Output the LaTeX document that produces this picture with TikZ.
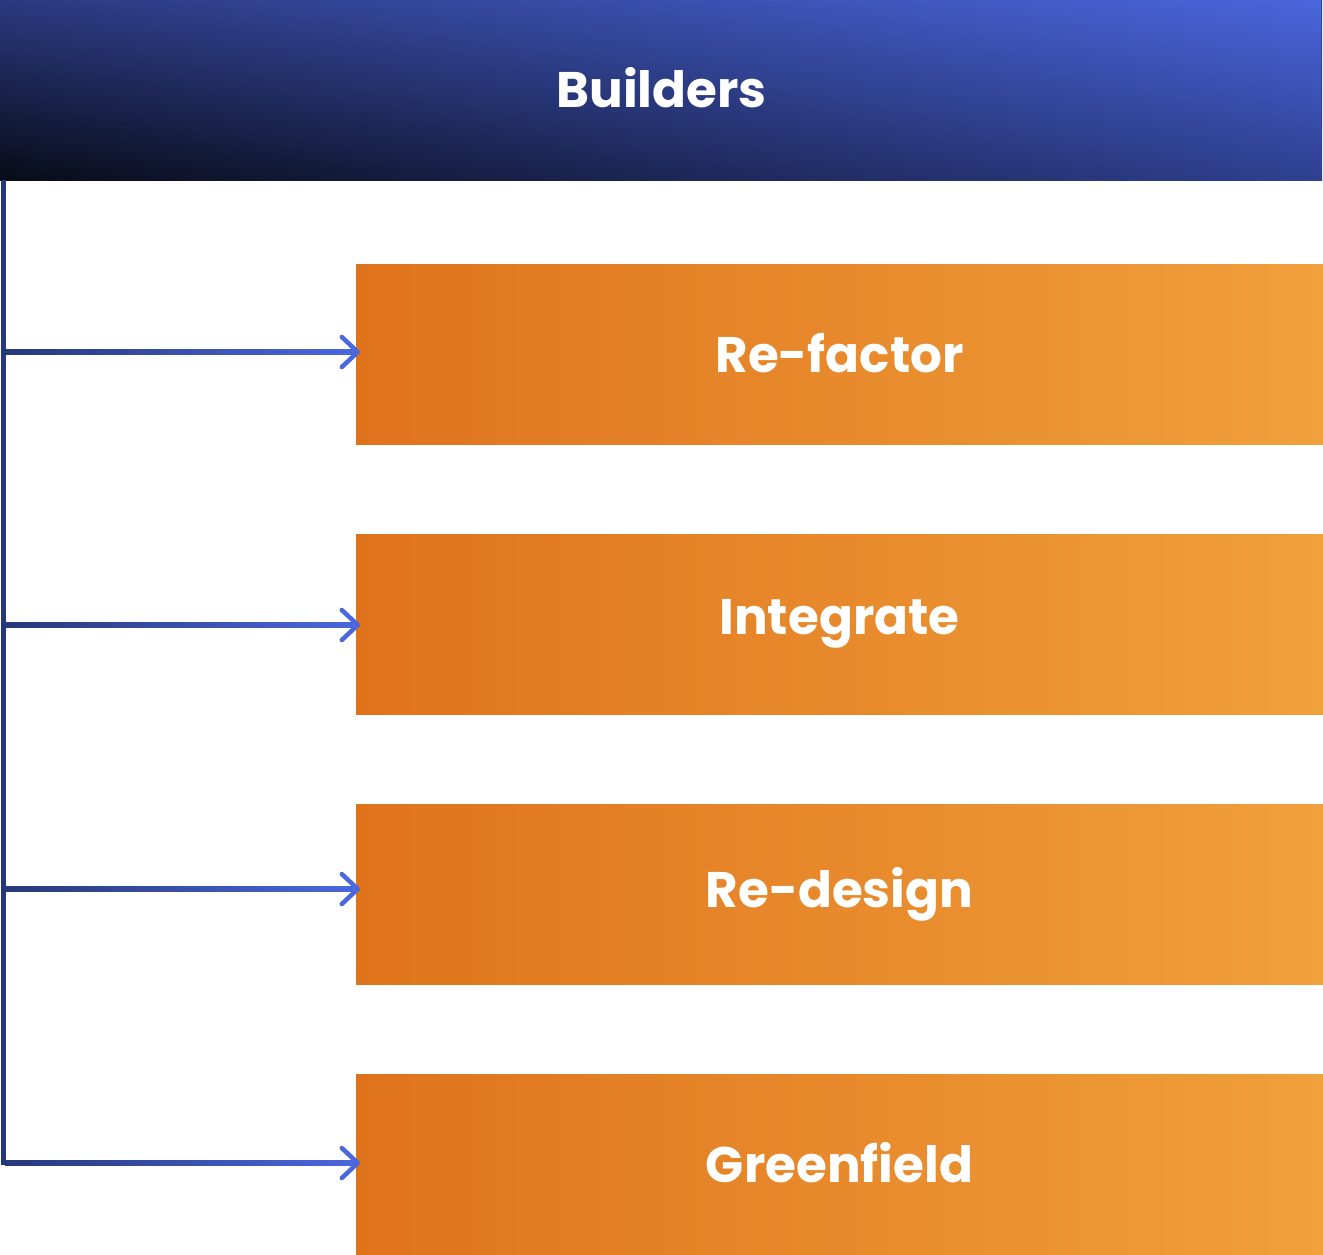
\documentclass[tikz,border=0pt]{standalone}
\usepackage{fontspec}
\setmainfont{Poppins}
\usetikzlibrary{fadings,calc}
\definecolor{hdrBL}{HTML}{080C18}
\definecolor{hdrBR}{HTML}{2F4090}
\definecolor{hdrTL}{HTML}{2B3A80}
\definecolor{hdrTR}{HTML}{4B66DD}
\definecolor{orL}{HTML}{DF731C}
\definecolor{orR}{HTML}{F0A03C}
\definecolor{railc}{HTML}{27387A}
\definecolor{arrowblue}{HTML}{4B67DE}
\tikzfading[name=topopaque, top color=transparent!0, bottom color=transparent!100]
\newcommand{\lift}[1]{\raisebox{3pt}{#1}}
\begin{document}
\begin{tikzpicture}[x=1pt,y=1pt,
  lbl/.style={text=white, font=\bfseries\fontsize{50}{60}\selectfont},
  obox/.style={lbl, minimum width=967pt, minimum height=180pt, inner sep=0pt,
    left color=orL, right color=orR, draw=none},
  rail/.style={draw=railc, line width=4.5pt},
  chev/.style={draw=arrowblue, line width=4.5pt, line cap=round, line join=round}]
\useasboundingbox (0,0) rectangle (1323,-1254);
% header
\shade[left color=hdrBL, right color=hdrBR] (0,0) rectangle (1322,-180);
\shade[left color=hdrTL, right color=hdrTR, path fading=topopaque] (0,0) rectangle (1322,-180);
\node[inner sep=0pt, minimum width=1322pt, minimum height=180pt, anchor=north west] (hdr) at (0,0) {};
\node[lbl] (builders) at (661.5,-88) {Builders};
% orange boxes
\node[obox] (b1) at (839.5,-354) {\lift{Re-factor}};
\node[obox] (b2) at (839.5,-624) {\lift{Integrate}};
\node[obox] (b3) at (839.5,-894) {\lift{Re-design}};
\node[obox] (b4) at (839.5,-1164) {\lift{Greenfield}};
% rail points
\coordinate (r1) at (3.5,-352);
\coordinate (r2) at (3.5,-625);
\coordinate (r3) at (3.5,-889);
\coordinate (r4) at (3.5,-1163);
\coordinate (rtop) at (3.5,-180);
\draw[rail] (rtop) -- ($(r4)+(0,-2.25)$);
\foreach \i in {1,2,3,4}{
  \shade[left color=railc, right color=arrowblue] ($(r\i)+(1.25,2.2)$) rectangle ($(b\i.west|-r\i)+(0,-2.2)$);
  \draw[chev] ($(b\i.west|-r\i)+(-14,15)$) -- ($(b\i.west|-r\i)+(2,0)$) -- ($(b\i.west|-r\i)+(-14,-15)$);
}
\end{tikzpicture}
\end{document}
